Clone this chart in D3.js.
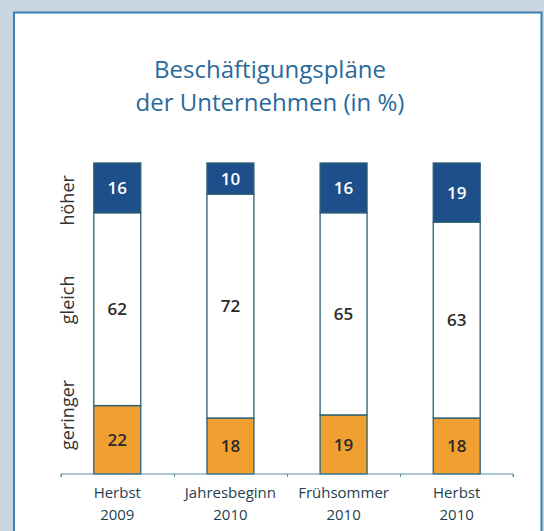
<!DOCTYPE html>
<html>
<head>
<meta charset="utf-8">
<script src="https://cdn.jsdelivr.net/npm/d3@7"></script>
<style>
    html, body { margin: 0; padding: 0; background: #c9d5e1; }
    svg { display: block; }
</style>
</head>
<body>
<svg id="chart" width="544" height="531"></svg>
<script>
// periods on the x axis, two lines each
const periods = ['Herbst|2009', 'Jahresbeginn|2010', 'Frühsommer|2010', 'Herbst|2010'];
// share of companies per answer, in %
const geringer = [22, 18, 19, 18];
const gleich = [62, 72, 65, 63];
const hoeher = [16, 10, 16, 19];
const answers = ['geringer', 'gleich', 'höher'];

const svg = d3.select('#chart');
const width = +svg.attr('width');
const height = +svg.attr('height');

const params = {
    padding: { top: 163, right: 31, bottom: 57, left: 61 },
    colors: ['#f0a031', '#ffffff', '#1f4f8a'],
    textColors: ['#2b2b2b', '#2b2b2b', '#ffffff']
};

// white panel with blue frame
svg.append('rect')
    .attr('x', 14)
    .attr('y', 12.5)
    .attr('width', 527.5)
    .attr('height', height)
    .attr('fill', '#ffffff')
    .attr('stroke', '#3b80b3')
    .attr('stroke-width', 2);

svg.append('text')
    .attr('text-anchor', 'middle')
    .attr('fill', '#2a6a9a')
    .style('font-family', 'Open Sans')
    .style('font-size', '24px')
    .selectAll('tspan')
    .data(['Beschäftigungspläne', 'der Unternehmen (in %)'])
    .enter()
    .append('tspan')
    .attr('x', 270)
    .attr('y', (d, i) => 78 + i * 33)
    .text(d => d);

const rows = periods.map((p, i) => ({ period: p, geringer: geringer[i], gleich: gleich[i], 'höher': hoeher[i] }));
const stacked = d3.stack().keys(answers)(rows);

const x = d3.scaleBand()
    .domain(periods)
    .range([params.padding.left, width - params.padding.right])
    .paddingInner(0.585)
    .paddingOuter(0.29);

const y = d3.scaleLinear()
    .domain([0, 100])
    .range([height - params.padding.bottom, params.padding.top]);

const layers = svg.append('g')
    .selectAll('g')
    .data(stacked)
    .enter()
    .append('g');

layers.selectAll('rect')
    .data(d => d)
    .enter()
    .append('rect')
    .attr('x', d => x(d.data.period))
    .attr('y', d => y(d[1]))
    .attr('width', x.bandwidth())
    .attr('height', d => y(d[0]) - y(d[1]))
    .attr('fill', function() { return params.colors[d3.select(this.parentNode).datum().index]; })
    .attr('stroke', '#2a5f72')
    .attr('stroke-width', 1.3);

layers.selectAll('text')
    .data(d => d.map(s => ({ layer: d.index, key: d.key, s })))
    .enter()
    .append('text')
    .attr('x', d => x(d.s.data.period) + x.bandwidth() / 2)
    .attr('y', d => (y(d.s[0]) + y(d.s[1])) / 2)
    .attr('dy', '0.36em')
    .attr('text-anchor', 'middle')
    .attr('fill', d => params.textColors[d.layer])
    .style('font-family', 'Open Sans')
    .style('font-size', '17px')
    .style('font-weight', 600)
    .text(d => d.s.data[d.key]);

// x axis: line with small end ticks between the bands
const axisY = y(0);
const xAxis = d3.scaleLinear().domain([0, 4]).range(x.range());
svg.append('g')
    .attr('transform', `translate(0,${axisY})`)
    .call(d3.axisBottom(xAxis).ticks(4).tickSize(3).tickFormat(''))
    .call(g => g.select('.domain').attr('stroke', '#5a8fa8').attr('d', `M${x.range()[0]},3V0H${x.range()[1]}V3`))
    .call(g => g.selectAll('.tick line').attr('stroke', '#5a8fa8'));

svg.append('g')
    .selectAll('text')
    .data(periods)
    .enter()
    .append('text')
    .attr('text-anchor', 'middle')
    .attr('fill', '#1f4050')
    .style('font-family', 'Open Sans')
    .style('font-size', '15px')
    .each(function(p) {
        const t = d3.select(this);
        p.split('|').forEach((line, i) => {
            t.append('tspan')
                .attr('x', x(p) + x.bandwidth() / 2)
                .attr('y', axisY + 24 + i * 22)
                .text(line);
        });
    });

// rotated answer labels on the left
const labelAt = [19, 56, 88];
svg.append('g')
    .selectAll('text')
    .data(answers)
    .enter()
    .append('text')
    .attr('transform', (d, i) => `translate(74,${y(labelAt[i])}) rotate(-90)`)
    .attr('text-anchor', 'middle')
    .attr('fill', '#333333')
    .style('font-family', 'Open Sans')
    .style('font-size', '18px')
    .text(d => d);
</script>
</body>
</html>
